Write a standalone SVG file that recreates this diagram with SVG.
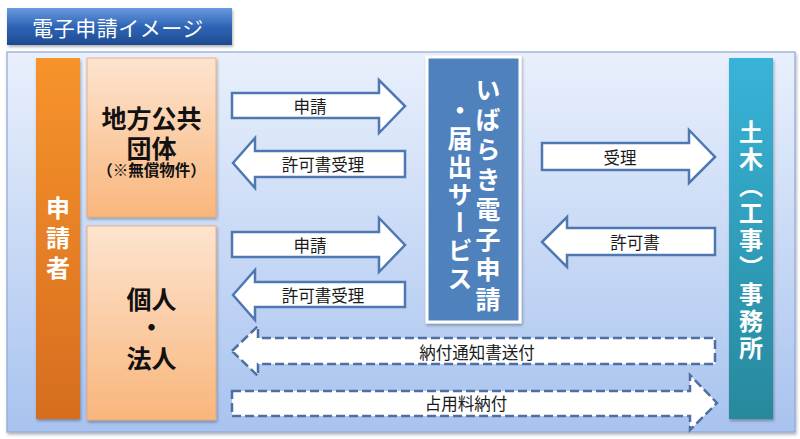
<svg xmlns="http://www.w3.org/2000/svg" width="800" height="439" viewBox="0 0 800 439">
<defs>
<linearGradient id="gTitle" x1="0" y1="0" x2="0" y2="1">
<stop offset="0" stop-color="#6a9ae0"/><stop offset="0.5" stop-color="#2f65b6"/><stop offset="1" stop-color="#1e4a90"/>
</linearGradient>
<linearGradient id="gPanel" x1="0" y1="0" x2="0" y2="1">
<stop offset="0" stop-color="#e9f0fc"/><stop offset="1" stop-color="#a8c3ef"/>
</linearGradient>
<linearGradient id="gOrange" x1="0" y1="0" x2="0" y2="1">
<stop offset="0" stop-color="#f7932c"/><stop offset="1" stop-color="#d66d1f"/>
</linearGradient>
<linearGradient id="gPeach" x1="0" y1="0" x2="0" y2="1">
<stop offset="0" stop-color="#fde4cf"/><stop offset="1" stop-color="#f9b67c"/>
</linearGradient>
<linearGradient id="gTeal" x1="0" y1="0" x2="0" y2="1">
<stop offset="0" stop-color="#38b3d9"/><stop offset="1" stop-color="#28899c"/>
</linearGradient>
<filter id="sh" x="-10%" y="-10%" width="130%" height="130%">
<feDropShadow dx="1" dy="2" stdDeviation="1.5" flood-color="#000" flood-opacity="0.3"/>
</filter>
</defs>
<style>
.jp{font-family:"Noto Sans CJK JP","Noto Sans CJK SC",sans-serif;text-spacing-trim:space-all}
.lbl{font-size:16.5px;fill:#1a1a1a;text-anchor:middle;dominant-baseline:central}
.bold{font-weight:bold}
.dark{fill:#111;text-anchor:middle;dominant-baseline:central}
.vert{writing-mode:vertical-rl;font-weight:bold;fill:#fff}
.arr{fill:#fff;stroke:#4f77b2;stroke-width:2.5;stroke-linejoin:miter}
.dash{fill:#fff;stroke:#4f6fa3;stroke-width:2.5;stroke-dasharray:9 4}
</style>

<g id="title">
<rect x="7" y="8" width="225" height="37" fill="url(#gTitle)" filter="url(#sh)"/>
<text class="jp" x="118" y="27" font-size="21" fill="#fff" text-anchor="middle" dominant-baseline="central" letter-spacing="0.5">電子申請イメージ</text>
</g>

<g id="panel">
<rect x="7" y="52" width="788" height="380" fill="url(#gPanel)" stroke="#90a9d2" stroke-width="1.2" filter="url(#sh)"/>
</g>

<g id="applicant">
<rect x="36" y="58" width="44" height="361" fill="url(#gOrange)" filter="url(#sh)"/>
<text class="jp vert" x="58" y="196" font-size="24" letter-spacing="6">申請者</text>
</g>

<g id="local-gov">
<rect x="87" y="58" width="129" height="159" fill="url(#gPeach)" stroke="#e7a574" stroke-width="0.8" filter="url(#sh)"/>
<text class="jp bold dark" font-size="25"><tspan x="151.5" y="117">地方公共</tspan><tspan x="151.5" y="147">団体</tspan><tspan x="151.5" y="169" font-size="15.5">（※無償物件）</tspan></text>
</g>

<g id="individual">
<rect x="87" y="226" width="129" height="194" fill="url(#gPeach)" stroke="#e7a574" stroke-width="0.8" filter="url(#sh)"/>
<text class="jp bold dark" font-size="25"><tspan x="151.5" y="298">個人</tspan><tspan x="151.5" y="326">・</tspan><tspan x="151.5" y="357">法人</tspan></text>
</g>

<g id="service">
<rect x="427" y="57" width="93" height="265" fill="#4f81bd" stroke="#fff" stroke-width="3" filter="url(#sh)"/>
<text class="jp vert" x="488" y="77" font-size="25" letter-spacing="5">いばらき電子申請</text>
<text class="jp vert" x="460" y="98" font-size="25" letter-spacing="3">・届出サービス</text>
</g>

<g id="office">
<rect x="729" y="58" width="44" height="361" fill="url(#gTeal)" filter="url(#sh)"/>
<text class="jp vert" x="751" y="120" font-size="24" letter-spacing="3">土木（工事）事務所</text>
</g>

<g id="connectors">
<path class="arr" d="M232,93 H379 V80 L405,106 L379,133 V118 H232 Z"/>
<text class="jp lbl" x="310" y="106">申請</text>
<path class="arr" d="M233,163 L255,138 V151 H405 V177 H255 V188 Z"/>
<text class="jp lbl" x="323" y="164">許可書受理</text>

<path class="arr" d="M232,232 H379 V218 L405,245 L379,272 V257 H232 Z"/>
<text class="jp lbl" x="310" y="245">申請</text>
<path class="arr" d="M233,295 L255,270 V282 H405 V307 H255 V320 Z"/>
<text class="jp lbl" x="323" y="295">許可書受理</text>

<path class="arr" d="M542,143 H689 V130 L715,157 L689,183 V170 H542 Z"/>
<text class="jp lbl" x="620" y="157">受理</text>
<path class="arr" d="M542,242 L567,217 V228 H715 V255 H567 V267 Z"/>
<text class="jp lbl" x="635" y="242">許可書</text>

<path class="dash" d="M232,351 L258,326 V338 H715 V364 H258 V376 Z"/>
<text class="jp lbl" x="477" y="352">納付通知書送付</text>
<path class="dash" d="M232,391 H690 V375 L717,403 L690,430 V416 H232 Z"/>
<text class="jp lbl" x="466" y="403">占用料納付</text>
</g>
</svg>
